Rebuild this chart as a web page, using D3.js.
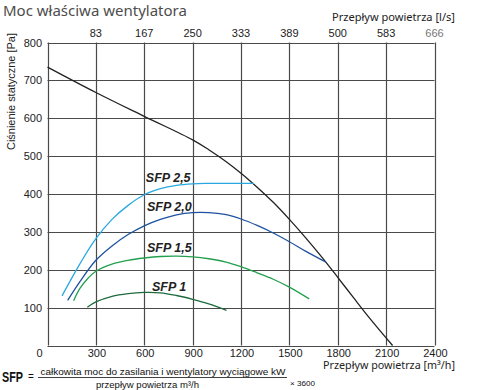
<!DOCTYPE html>
<html><head><meta charset="utf-8">
<script src="https://cdn.jsdelivr.net/npm/d3@7"></script>
<style>body{margin:0;background:#fff}svg{display:block}</style>
</head><body>
<script>
// ---- data ----
const xTicks = [0, 300, 600, 900, 1200, 1500, 1800, 2100, 2400];
const yTicks = [0, 100, 200, 300, 400, 500, 600, 700, 800];
const topTickLabels = ["83", "167", "250", "333", "389", "500", "583", "666"];

const systemFlow     = [0, 300, 600, 900, 1000, 1100, 1200, 1300, 1400, 1500, 1600, 1700, 1800, 1900, 2000, 2140];
const systemPressure = [735, 668, 605, 543, 517, 488, 455, 418, 378, 333, 285, 234, 180, 125, 71, 0];

const sfp25Flow     = [90, 200, 300, 400, 500, 600, 700, 800, 900, 1000, 1280];
const sfp25Pressure = [131, 215, 282, 333, 370, 398, 414, 423, 427, 428, 428];

const sfp20Flow     = [125, 200, 300, 400, 500, 600, 700, 800, 900, 1000, 1100, 1200, 1300, 1400, 1500, 1600, 1727];
const sfp20Pressure = [119, 168, 225, 263, 293, 316, 333, 345, 351, 351, 346, 334, 317, 297, 274, 249, 220];

const sfp15Flow     = [162, 200, 250, 300, 400, 500, 600, 700, 800, 900, 1000, 1100, 1200, 1300, 1400, 1500, 1623];
const sfp15Pressure = [118, 150, 177, 196, 215, 225, 231, 235, 236, 234, 229, 221, 208, 192, 175, 154, 123];

const sfp10Flow     = [247, 300, 400, 500, 600, 700, 800, 900, 1000, 1110];
const sfp10Pressure = [101, 115, 130, 137, 140, 139, 132, 122, 110, 93];

const seriesNames = ["SFP 2,5", "SFP 2,0", "SFP 1,5", "SFP 1"];
const labelFlow     = [610, 617, 617, 648];
const labelPressure = [431, 355, 247, 144];

// ---- chart ----
const W = 480, H = 390;
const svg = d3.select("body").append("svg").attr("width", W).attr("height", H)
  .style("font-family", "'Liberation Sans', Arial, sans-serif");

const x = d3.scaleLinear().domain([0, 2400]).range([47.5, 434.5]);
const y = d3.scaleLinear().domain([0, 800]).range([345.5, 42.5]);
const gridCol = "#4a4a4a";

// grid
svg.append("g").selectAll("line").data(yTicks).join("line")
  .attr("x1", x(0)).attr("x2", x(2400))
  .attr("y1", d => Math.round(y(d)) + 0.5).attr("y2", d => Math.round(y(d)) + 0.5)
  .attr("stroke", gridCol).attr("stroke-width", 1.2);
svg.append("g").selectAll("line").data(xTicks).join("line")
  .attr("x1", d => Math.round(x(d)) + 0.5).attr("x2", d => Math.round(x(d)) + 0.5)
  .attr("y1", y(800)).attr("y2", y(0))
  .attr("stroke", gridCol).attr("stroke-width", 1.2);

// y tick labels
svg.append("g").selectAll("text").data(yTicks.slice(1)).join("text")
  .attr("x", 42).attr("y", d => y(d) + 4)
  .attr("text-anchor", "end").attr("font-size", 11).attr("fill", "#222")
  .text(d => d);

// bottom tick labels
svg.append("g").selectAll("text").data(xTicks).join("text")
  .attr("x", d => d === 0 ? x(d) - 8 : x(d) + 1).attr("y", 357)
  .attr("text-anchor", "middle").attr("font-size", 11).attr("fill", "#222")
  .text(d => d);

// top tick labels (l/s)
svg.append("g").selectAll("text").data(topTickLabels).join("text")
  .attr("x", (d, i) => x(xTicks[i + 1]))
  .attr("y", 37)
  .attr("text-anchor", "middle").attr("font-size", 11)
  .attr("fill", (d, i) => i === topTickLabels.length - 1 ? "#777" : "#222")
  .text(d => d);

// curves
const line = d3.line().x(d => x(d[0])).y(d => y(d[1])).curve(d3.curveCatmullRom.alpha(0.5));
const series = [
  {f: systemFlow, p: systemPressure, c: "#222222"},
  {f: sfp25Flow, p: sfp25Pressure, c: "#2aa9e0"},
  {f: sfp20Flow, p: sfp20Pressure, c: "#1d52a0"},
  {f: sfp15Flow, p: sfp15Pressure, c: "#22a04e"},
  {f: sfp10Flow, p: sfp10Pressure, c: "#1d6b3c"}
];
svg.append("g").selectAll("path").data(series).join("path")
  .attr("d", s => line(d3.zip(s.f, s.p)))
  .attr("fill", "none").attr("stroke", s => s.c).attr("stroke-width", 1.3);

// SFP labels
svg.append("g").selectAll("text").data(seriesNames).join("text")
  .attr("x", (d, i) => x(labelFlow[i])).attr("y", (d, i) => y(labelPressure[i]))
  .attr("font-size", 12.5).attr("font-weight", "bold").attr("font-style", "italic")
  .attr("fill", "#222").text(d => d);

// titles
svg.append("text").attr("x", 3).attr("y", 16)
  .attr("font-family", "'Noto Sans', sans-serif").attr("font-size", 15).attr("fill", "#4d4d4d")
  .text("Moc właściwa wentylatora");

svg.append("text").attr("x", 455).attr("y", 21).attr("text-anchor", "end")
  .attr("font-family", "'Noto Sans', sans-serif").attr("font-size", 10.5).attr("fill", "#222")
  .attr("textLength", 123).attr("lengthAdjust", "spacingAndGlyphs")
  .text("Przepływ powietrza  [l/s]");

svg.append("text").attr("x", 455).attr("y", 368.5).attr("text-anchor", "end")
  .attr("font-family", "'Noto Sans', sans-serif").attr("font-size", 10.5).attr("fill", "#222")
  .attr("textLength", 132).attr("lengthAdjust", "spacingAndGlyphs")
  .text("Przepływ powietrza  [m³/h]");

svg.append("text").attr("transform", "translate(15,150) rotate(-90)")
  .attr("font-size", 10.5).attr("fill", "#222")
  .attr("textLength", 117).attr("lengthAdjust", "spacingAndGlyphs")
  .text("Ciśnienie statyczne [Pa]");

// formula
const fg = svg.append("g").attr("fill", "#111");
fg.append("text").attr("transform", "translate(2,382) scale(0.72,1)")
  .attr("font-size", 15).attr("font-weight", "bold").text("SFP");
fg.append("text").attr("x", 28).attr("y", 380).attr("font-size", 10).text("=");
fg.append("text").attr("x", 40.5).attr("y", 375).attr("font-size", 9)
  .attr("textLength", 245).attr("lengthAdjust", "spacingAndGlyphs")
  .text("całkowita moc do zasilania i wentylatory wyciągowe kW");
fg.append("line").attr("x1", 38).attr("x2", 287).attr("y1", 377.5).attr("y2", 377.5)
  .attr("stroke", "#111").attr("stroke-width", 0.8);
fg.append("text").attr("x", 96).attr("y", 387.5).attr("font-size", 9)
  .attr("textLength", 103).attr("lengthAdjust", "spacingAndGlyphs")
  .text("przepływ powietrza m³/h");
fg.append("text").attr("x", 290).attr("y", 385.5).attr("font-size", 8)
  .attr("textLength", 25).attr("lengthAdjust", "spacingAndGlyphs")
  .text("× 3600");
</script>
</body></html>
